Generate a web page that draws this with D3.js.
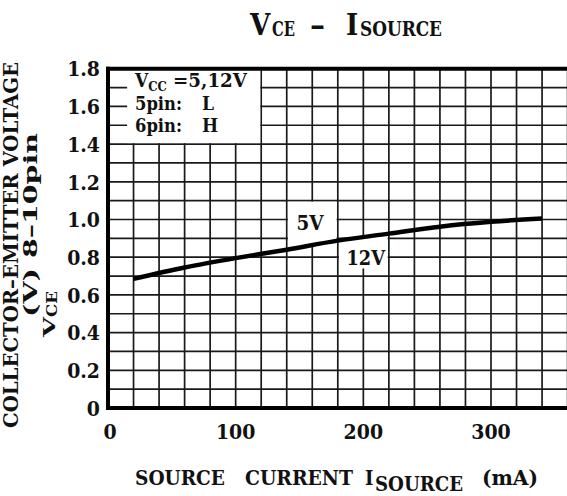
<!DOCTYPE html>
<html>
<head>
<meta charset="utf-8">
<script src="https://cdn.jsdelivr.net/npm/d3@7"></script>
<style>
  html, body { margin: 0; padding: 0; background: #fff; }
  svg { display: block; }
  text { font-family: "DejaVu Serif Condensed", "DejaVu Serif", serif; font-weight: bold; fill: #111; }
</style>
</head>
<body>
<svg id="chart" width="567" height="496"></svg>
<script>
// ---- data ----
const currentMA = [20, 60, 100, 140, 180, 220, 260, 300, 340];
const vceV      = [0.685, 0.745, 0.795, 0.840, 0.888, 0.925, 0.962, 0.988, 1.005];
const xTickValues = [0, 100, 200, 300];
const xTickLabels = ["0", "100", "200", "300"];
const yTickValues = [0, 0.2, 0.4, 0.6, 0.8, 1.0, 1.2, 1.4, 1.6, 1.8];
const yTickLabels = ["0", "0.2", "0.4", "0.6", "0.8", "1.0", "1.2", "1.4", "1.6", "1.8"];
const xGridStep = 20, yGridStep = 0.1;
const legendLines = ["=5,12V", "5pin:", "6pin:"];
const legendValues = ["", "L", "H"];
const curveLabels = [
  { text: "5V",  x0: 140, x1: 180, yFixed: 1.1,  side: "above" },
  { text: "12V", x0: 180, x1: 220, yFixed: 0.74, side: "below" }
];

// ---- scales ----
const svg = d3.select("#chart");
const x = d3.scaleLinear().domain([0, 360]).range([108, 567.6]);
const y = d3.scaleLinear().domain([0, 1.8]).range([408, 68.7]);
const pts = currentMA.map((d, i) => [d, vceV[i]]);

// ---- grid ----
const grid = svg.append("g").attr("stroke", "#1a1a1a").attr("stroke-width", 1.7);
const xg = d3.range(xGridStep, 360 + 0.001, xGridStep);
const yg = d3.range(yGridStep, 1.8 - 0.001, yGridStep);
grid.selectAll("line.v").data(xg).join("line")
  .attr("x1", d => x(d)).attr("x2", d => x(d)).attr("y1", y(1.8)).attr("y2", y(0));
grid.selectAll("line.h").data(yg).join("line")
  .attr("x1", x(0)).attr("x2", x(360)).attr("y1", d => y(d)).attr("y2", d => y(d));

// ---- legend box (white) ----
svg.append("rect")
  .attr("x", x(15)).attr("y", y(1.8))
  .attr("width", x(120) - x(15) - 1).attr("height", y(1.4) - y(1.8) - 1)
  .attr("fill", "#fff");

// ---- label boxes following curve ----
const defs = svg.append("defs");
curveLabels.forEach((lb, i) => {
  defs.append("clipPath").attr("id", "clip" + i).append("rect")
    .attr("x", x(lb.x0) + 1.2).attr("width", x(lb.x1) - x(lb.x0) - 2.4)
    .attr("y", 0).attr("height", 496);
  const area = d3.area().curve(d3.curveMonotoneX)
    .x(d => x(d[0]))
    .y0(d => y(d[1]))
    .y1(() => lb.side === "above" ? y(lb.yFixed) + 1.2 : y(lb.yFixed));
  svg.append("path").datum(pts).attr("d", area)
    .attr("fill", "#fff").attr("clip-path", `url(#clip${i})`);
});

// ---- frame ----
const frame = svg.append("g").attr("stroke", "#000").attr("stroke-width", 4);
frame.append("line").attr("x1", x(0)).attr("x2", x(0)).attr("y1", y(1.8) - 2).attr("y2", y(0) + 2);
frame.append("line").attr("x1", x(0) - 2).attr("x2", x(360)).attr("y1", y(0)).attr("y2", y(0));
frame.append("line").attr("x1", x(0) - 2).attr("x2", x(360)).attr("y1", y(1.8)).attr("y2", y(1.8));

// ---- curve ----
svg.append("path").datum(pts)
  .attr("d", d3.line().curve(d3.curveMonotoneX).x(d => x(d[0])).y(d => y(d[1])))
  .attr("fill", "none").attr("stroke", "#000").attr("stroke-width", 4.5);

// ---- curve labels ----
svg.append("text").attr("x", 296.5).attr("y", 229.5)
  .attr("font-size", 20).attr("textLength", 27).attr("lengthAdjust", "spacingAndGlyphs")
  .text(curveLabels[0].text);
svg.append("text").attr("x", 346.5).attr("y", 264.5)
  .attr("font-size", 20).attr("textLength", 38.5).attr("lengthAdjust", "spacingAndGlyphs")
  .text(curveLabels[1].text);

// ---- ticks ----
svg.selectAll("text.yt").data(yTickValues).join("text")
  .attr("x", 100).attr("y", d => y(d)).attr("dy", "0.37em")
  .attr("text-anchor", "end").attr("font-size", 21)
  .text((d, i) => yTickLabels[i]);
svg.selectAll("text.xt").data(xTickValues).join("text")
  .attr("x", d => x(d) + (d === 0 ? 2 : 0)).attr("y", 438.5)
  .attr("text-anchor", "middle").attr("font-size", 21)
  .text((d, i) => xTickLabels[i]);

// ---- legend text ----
const lg = svg.append("g").attr("font-size", 19);
const l1 = lg.append("text").attr("x", 135).attr("y", 87);
l1.append("tspan").text("V");
l1.append("tspan").attr("font-size", 13).attr("dy", 3.5).text("CC");
l1.append("tspan").attr("x", 173).attr("dy", -3.5)
  .attr("textLength", 74).attr("lengthAdjust", "spacingAndGlyphs").text(legendLines[0]);
[1, 2].forEach(i => {
  const t = lg.append("text").attr("x", 135).attr("y", 88.5 + i * 21.7);
  t.append("tspan").attr("textLength", 47).attr("lengthAdjust", "spacingAndGlyphs").text(legendLines[i]);
  t.append("tspan").attr("x", 202).text(legendValues[i]);
});

// ---- title ----
const tt = svg.append("text").attr("y", 34.5).attr("font-size", 29);
tt.append("tspan").attr("x", 250).text("V");
tt.append("tspan").attr("x", 272).attr("font-size", 20).attr("dy", 1)
  .attr("textLength", 23).attr("lengthAdjust", "spacingAndGlyphs").text("CE");
tt.append("tspan").attr("x", 310).attr("dy", -1)
  .attr("textLength", 15).attr("lengthAdjust", "spacingAndGlyphs").text("–");
tt.append("tspan").attr("x", 346).text("I");
tt.append("tspan").attr("x", 360).attr("font-size", 20).attr("dy", 1)
  .attr("textLength", 82).attr("lengthAdjust", "spacingAndGlyphs").text("SOURCE");

// ---- x label ----
const xl = svg.append("text").attr("y", 485).attr("font-size", 20);
xl.append("tspan").attr("x", 135).attr("textLength", 90).attr("lengthAdjust", "spacingAndGlyphs").text("SOURCE");
xl.append("tspan").attr("x", 245).attr("textLength", 108).attr("lengthAdjust", "spacingAndGlyphs").text("CURRENT");
xl.append("tspan").attr("x", 365).text("I");
xl.append("tspan").attr("x", 375).attr("dy", 6).attr("textLength", 88).attr("lengthAdjust", "spacingAndGlyphs").text("SOURCE");
xl.append("tspan").attr("x", 482).attr("dy", -6).attr("textLength", 56).attr("lengthAdjust", "spacingAndGlyphs").text("(mA)");

// ---- y label ----
svg.append("text").attr("transform", "translate(18,428) rotate(-90)")
  .attr("font-size", 19.5).attr("textLength", 366).attr("lengthAdjust", "spacingAndGlyphs")
  .text("COLLECTOR–EMITTER  VOLTAGE");
svg.append("text").attr("transform", "translate(36.5,317) rotate(-90)")
  .attr("font-size", 19).attr("textLength", 184).attr("lengthAdjust", "spacingAndGlyphs")
  .text("(V)  8–10pin");
const yv = svg.append("text").attr("transform", "translate(55,337) rotate(-90)").attr("font-size", 17);
yv.append("tspan").attr("textLength", 20).attr("lengthAdjust", "spacingAndGlyphs").text("V");
yv.append("tspan").attr("font-size", 14).attr("dy", 2).attr("textLength", 26).attr("lengthAdjust", "spacingAndGlyphs").text("CE");
</script>
</body>
</html>
